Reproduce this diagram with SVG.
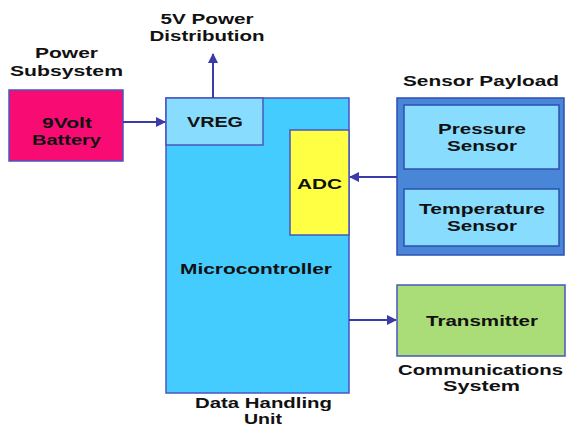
<svg xmlns="http://www.w3.org/2000/svg" width="566" height="426" viewBox="0 0 566 426">
<style>
text{font-family:"Liberation Sans",Arial,sans-serif;font-weight:bold;font-size:15px;fill:#111;text-anchor:middle}
.box{stroke:#4a55c0;stroke-width:1.5}
.conn{stroke:#3a3aa8;stroke-width:2;fill:none;marker-end:url(#ah)}
</style>
<defs>
<marker id="ah" viewBox="0 0 10 10" refX="9" refY="5" markerWidth="5" markerHeight="5" orient="auto" markerUnits="strokeWidth">
<path d="M0,0 L10,5 L0,10 z" fill="#3a3aa8"/>
</marker>
</defs>
<rect width="566" height="426" fill="#fff"/>
<g id="labels">
<text x="207" y="24" textLength="93" lengthAdjust="spacingAndGlyphs">5V Power</text>
<text x="207" y="41" textLength="115" lengthAdjust="spacingAndGlyphs">Distribution</text>
<text x="66.5" y="58" textLength="63" lengthAdjust="spacingAndGlyphs">Power</text>
<text x="66.5" y="76" textLength="113" lengthAdjust="spacingAndGlyphs">Subsystem</text>
<text x="481" y="86" textLength="156" lengthAdjust="spacingAndGlyphs">Sensor Payload</text>
<text x="480.5" y="375" textLength="165" lengthAdjust="spacingAndGlyphs">Communications</text>
<text x="481.5" y="391" textLength="77" lengthAdjust="spacingAndGlyphs">System</text>
<text x="263.5" y="408" textLength="137" lengthAdjust="spacingAndGlyphs">Data Handling</text>
<text x="263" y="424" textLength="38" lengthAdjust="spacingAndGlyphs">Unit</text>
</g>
<g id="battery">
<rect class="box" x="9" y="90" width="114" height="71" fill="#f80c74"/>
<text x="67" y="128" textLength="50" lengthAdjust="spacingAndGlyphs">9Volt</text>
<text x="66.5" y="145" textLength="69" lengthAdjust="spacingAndGlyphs">Battery</text>
</g>
<g id="microcontroller">
<rect class="box" x="166" y="98" width="183" height="295" fill="#44ccff"/>
<text x="256" y="274" textLength="152" lengthAdjust="spacingAndGlyphs">Microcontroller</text>
</g>
<g id="vreg">
<rect class="box" x="166" y="98" width="97" height="47" fill="#88ddff"/>
<text x="215" y="127" textLength="56" lengthAdjust="spacingAndGlyphs">VREG</text>
</g>
<g id="adc">
<rect class="box" x="290" y="130" width="59" height="105" fill="#ffff44"/>
<text x="319.5" y="189" textLength="45" lengthAdjust="spacingAndGlyphs">ADC</text>
</g>
<g id="sensor-payload">
<rect x="397" y="98" width="167" height="157" fill="#4a86d8" stroke="#2f4fb0" stroke-width="1.5"/>
</g>
<g id="pressure-sensor">
<rect x="404" y="105" width="155" height="64" fill="#88ddff" stroke="#2f4fb0" stroke-width="1.5"/>
<text x="482" y="134" textLength="88" lengthAdjust="spacingAndGlyphs">Pressure</text>
<text x="482" y="151" textLength="70" lengthAdjust="spacingAndGlyphs">Sensor</text>
</g>
<g id="temperature-sensor">
<rect x="404" y="189" width="155" height="57" fill="#88ddff" stroke="#2f4fb0" stroke-width="1.5"/>
<text x="482" y="214" textLength="126" lengthAdjust="spacingAndGlyphs">Temperature</text>
<text x="482" y="231" textLength="70" lengthAdjust="spacingAndGlyphs">Sensor</text>
</g>
<g id="transmitter">
<rect class="box" x="397" y="285" width="168" height="71" fill="#aadd77"/>
<text x="482" y="326" textLength="112" lengthAdjust="spacingAndGlyphs">Transmitter</text>
</g>
<g id="connectors">
<line class="conn" x1="123" y1="122" x2="165" y2="122"/>
<line class="conn" x1="213" y1="98" x2="213" y2="54"/>
<line class="conn" x1="397" y1="177" x2="350" y2="177"/>
<line class="conn" x1="349" y1="320" x2="396" y2="320"/>
</g>
</svg>
